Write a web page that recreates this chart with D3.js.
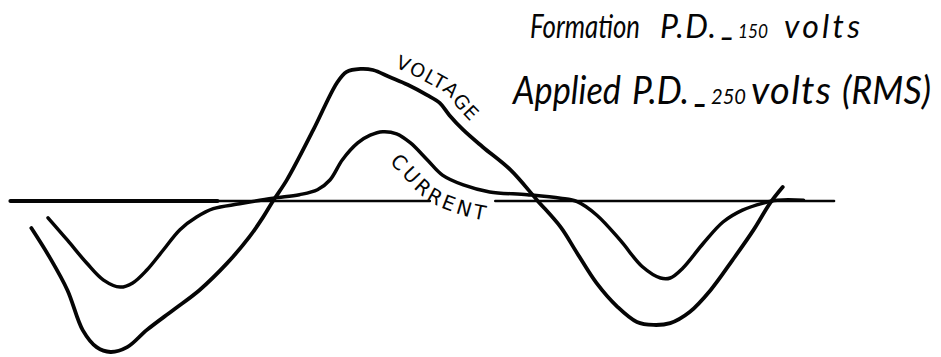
<!DOCTYPE html>
<html>
<head>
<meta charset="utf-8">
<script src="https://cdn.jsdelivr.net/npm/d3@7"></script>
<style>
  html, body { margin: 0; padding: 0; background: #fff; }
  svg { display: block; }
</style>
</head>
<body>
<svg id="chart" width="941" height="357"></svg>
<script>
// Oscillogram of a formed cell: applied voltage and resulting current
// Phase angle (degrees) of each sampled point along the voltage trace
const voltagePhase = [-174, -161, -148, -137, -127, -117, -105, -91, -72, -53, -33, -17, -7, 0,
  10, 29, 46, 53, 63, 72, 84, 97, 111, 120, 127, 137, 151, 171, 190,
  207, 219, 233, 248, 262, 274, 286, 300, 315, 331, 346, 358, 367];
// Instantaneous voltage (V)
const voltageValues = [-73, -151, -241, -349, -395, -408, -395, -349, -295, -241, -168, -97, -43, 0,
  57, 192, 319, 349, 357, 354, 335, 314, 286, 265, 232, 192, 146, 84, 3,
  -70, -141, -222, -286, -327, -335, -330, -300, -241, -159, -78, -5, 38];

// Phase angle (degrees) of each sampled point along the current trace
const currentPhase = [-162, -148, -134, -122, -110, -101, -91, -79, -67, -55, -43, -24, 0,
  19, 32, 41, 50, 61, 70, 79, 89, 99, 111, 122, 137, 156, 183,
  207, 219, 233, 250, 266, 279, 286, 295, 310, 324, 338, 353, 363, 382];
// Instantaneous current (mA)
const currentValues = [-24, -56, -89, -113, -123, -117, -99, -70, -41, -23, -11, -4, 4,
  9, 16, 30, 59, 83, 94, 99, 96, 83, 59, 37, 23, 13, 9,
  4, -1, -20, -56, -94, -110, -110, -96, -60, -30, -13, -3, 1, 1];

// Zero line extent (degrees), broken where the CURRENT label sits on it
const zeroLineSpans = [[-189, 113], [160, 404]];

// Trace labels
const traceLabels = ["VOLTAGE", "CURRENT"];

// Heading lines: [text, role]
const headingLine1 = [["Formation", "big"], ["P.D.", "big"], ["_", "dash"], ["150", "small"], ["volts", "big"]];
const headingLine2 = [["Applied", "big"], ["P.D.", "big"], ["_", "dash"], ["250", "small"], ["volts", "big"], ["(RMS)", "big"]];

const svg = d3.select("#chart");

const x = d3.scaleLinear().domain([0, 360]).range([273, 773]);
const yV = d3.scaleLinear().domain([0, 354]).range([201, 70]);
const yI = d3.scaleLinear().domain([0, 100]).range([201, 131]);

const voltage = voltagePhase.map((p, i) => ({ p, v: voltageValues[i] }));
const current = currentPhase.map((p, i) => ({ p, v: currentValues[i] }));

const curve = d3.curveCatmullRom.alpha(0.5);
const lineV = d3.line().x(d => x(d.p)).y(d => yV(d.v)).curve(curve);
const lineI = d3.line().x(d => x(d.p)).y(d => yI(d.v)).curve(curve);

const ink = "#050505";

// zero line
svg.append("g").selectAll("line")
  .data(zeroLineSpans)
  .join("line")
  .attr("x1", d => x(d[0])).attr("x2", d => x(d[1]))
  .attr("y1", yV(0)).attr("y2", yV(0))
  .attr("stroke", ink).attr("stroke-width", 2.4).attr("stroke-linecap", "round");
// heavier stretch of the zero line on the left
svg.append("line")
  .attr("x1", x(-189)).attr("x2", x(-40))
  .attr("y1", yV(0)).attr("y2", yV(0))
  .attr("stroke", ink).attr("stroke-width", 4.2).attr("stroke-linecap", "round");

const pathV = svg.append("path")
  .attr("d", lineV(voltage))
  .attr("fill", "none").attr("stroke", ink).attr("stroke-width", 3.8)
  .attr("stroke-linecap", "round").attr("stroke-linejoin", "round");

const pathI = svg.append("path")
  .attr("d", lineI(current))
  .attr("fill", "none").attr("stroke", ink).attr("stroke-width", 3.5)
  .attr("stroke-linecap", "round").attr("stroke-linejoin", "round");

// Build a path parallel to a trace, offset along its normal (positive = above)
function parallelPath(node, fromDeg, toDeg, dist) {
  const L = node.getTotalLength();
  const pts = [];
  for (let s = 0; s <= L; s += 1.5) {
    const a = node.getPointAtLength(s);
    if (a.x >= x(fromDeg) && a.x <= x(toDeg)) pts.push([a.x, a.y, s]);
  }
  const out = pts.map(([px, py, s]) => {
    const a = node.getPointAtLength(Math.max(0, s - 2));
    const b = node.getPointAtLength(Math.min(L, s + 2));
    let tx = b.x - a.x, ty = b.y - a.y;
    const n = Math.hypot(tx, ty) || 1;
    tx /= n; ty /= n;
    return [px + dist * ty, py - dist * tx];
  });
  return d3.line().curve(d3.curveBasis)(out);
}

const defs = svg.append("defs");
defs.append("path").attr("id", "voltageLabelPath")
  .attr("d", parallelPath(pathV.node(), 84, 175, 11));
defs.append("path").attr("id", "currentLabelPath")
  .attr("d", parallelPath(pathI.node(), 96, 190, -29));

const labelFont = "'DejaVu Sans', sans-serif";

svg.append("text")
  .attr("font-family", labelFont).attr("font-size", 19).attr("fill", ink)
  .attr("letter-spacing", 1.6)
  .append("textPath").attr("href", "#voltageLabelPath").attr("startOffset", 0)
  .text(traceLabels[0]);

svg.append("text")
  .attr("font-family", labelFont).attr("font-size", 20).attr("fill", ink)
  .attr("letter-spacing", 3)
  .append("textPath").attr("href", "#currentLabelPath").attr("startOffset", 0)
  .text(traceLabels[1]);

// Heading: each word is fitted to its width; wide words are condensed, narrow ones spread
const headFont = "Lato, 'Open Sans', sans-serif";
function heading(segments, xs, widths, baseline, bigSize, smallSize) {
  const g = svg.append("g");
  segments.forEach(([t, role], i) => {
    const isDash = role === "dash";
    const el = g.append("text")
      .attr("x", 0).attr("y", 0)
      .attr("font-family", headFont)
      .attr("font-style", "italic")
      .attr("font-weight", isDash ? 700 : 400)
      .attr("font-size", role === "small" ? smallSize : bigSize)
      .attr("fill", ink)
      .text(t);
    const natural = el.node().getComputedTextLength();
    const y = baseline - (isDash ? 3 : 0);
    if (natural > widths[i]) {
      el.attr("transform", `translate(${xs[i]},${y}) scale(${widths[i] / natural},1)`);
    } else {
      el.attr("transform", `translate(${xs[i]},${y})`)
        .attr("textLength", widths[i]).attr("lengthAdjust", "spacing");
    }
  });
}
heading(headingLine1, [530, 660, 722, 738, 784], [110, 56, 12, 30, 76], 38, 32, 20);
heading(headingLine2, [513, 632, 695, 711, 751, 842], [108, 57, 12, 35, 80, 89], 104, 38, 22);
</script>
</body>
</html>
